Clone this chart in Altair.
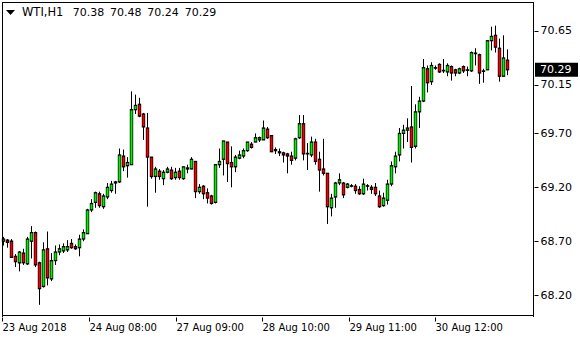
import altair as alt
import pandas as pd

symbol = "WTI,H1"

opens = [68.70, 68.71, 68.70, 68.56, 68.50, 68.59, 68.49, 68.70, 68.78, 68.50,
         68.28, 68.63, 68.35, 68.52, 68.60, 68.61, 68.62, 68.68, 68.65, 68.64,
         68.72, 68.77, 68.99, 69.06, 69.14, 69.02, 69.11, 69.17, 69.24, 69.25,
         69.49, 69.40, 69.41, 69.92, 69.97, 69.88, 69.75, 69.48, 69.30, 69.35,
         69.28, 69.34, 69.36, 69.29, 69.35, 69.28, 69.38, 69.37, 69.44, 69.16,
         69.21, 69.15, 69.12, 69.06, 69.41, 69.46, 69.62, 69.43, 69.39, 69.47,
         69.49, 69.54, 69.60, 69.62, 69.64, 69.64, 69.74, 69.68, 69.55, 69.53,
         69.52, 69.51, 69.49, 69.47, 69.66, 69.79, 69.515, 69.50, 69.62, 69.46,
         69.37, 69.33, 69.01, 69.11, 69.24, 69.24, 69.20, 69.215, 69.21, 69.18,
         69.14, 69.215, 69.20, 69.20, 69.12, 69.03, 69.08, 69.23, 69.39, 69.50,
         69.70, 69.73, 69.76, 69.58, 69.90, 70.00, 70.30, 70.18, 70.31, 70.34,
         70.285, 70.27, 70.32, 70.29, 70.26, 70.32, 70.29, 70.28, 70.445, 70.43,
         70.28, 70.29, 70.56, 70.61, 70.49, 70.23, 70.38]
highs = [68.74, 68.72, 68.72, 68.58, 68.61, 68.63, 68.74, 68.84, 68.79, 68.51,
         68.69, 68.79, 68.59, 68.66, 68.67, 68.68, 68.71, 68.72, 68.67, 68.76,
         68.81, 69.00, 69.09, 69.16, 69.16, 69.14, 69.24, 69.26, 69.26, 69.56,
         69.55, 69.48, 70.09, 70.06, 70.03, 69.89, 69.89, 69.48, 69.39, 69.37,
         69.36, 69.39, 69.39, 69.38, 69.38, 69.39, 69.41, 69.48, 69.44, 69.23,
         69.22, 69.19, 69.13, 69.41, 69.56, 69.63, 69.62, 69.58, 69.50, 69.54,
         69.56, 69.62, 69.62, 69.70, 69.67, 69.82, 69.76, 69.68, 69.57, 69.56,
         69.53, 69.52, 69.53, 69.66, 69.87, 69.87, 69.61, 69.67, 69.65, 69.53,
         69.65, 69.33, 69.14, 69.25, 69.33, 69.25, 69.24, 69.23, 69.23, 69.21,
         69.28, 69.23, 69.22, 69.24, 69.17, 69.15, 69.27, 69.44, 69.53, 69.75,
         69.78, 69.84, 70.14, 69.97, 70.04, 70.39, 70.33, 70.36, 70.33, 70.35,
         70.39, 70.35, 70.33, 70.30, 70.31, 70.33, 70.32, 70.46, 70.49, 70.44,
         70.30, 70.565, 70.69, 70.70, 70.58, 70.61, 70.48]
lows = [68.66, 68.64, 68.55, 68.46, 68.42, 68.48, 68.48, 68.54, 68.46, 68.11,
        68.27, 68.29, 68.33, 68.48, 68.57, 68.59, 68.60, 68.63, 68.62, 68.56,
        68.70, 68.77, 68.97, 69.01, 69.01, 69.00, 69.09, 69.15, 69.14, 69.24,
        69.35, 69.29, 69.41, 69.88, 69.85, 69.64, 69.02, 69.28, 69.15, 69.27,
        69.22, 69.33, 69.27, 69.27, 69.27, 69.27, 69.33, 69.37, 69.10, 69.14,
        69.09, 69.05, 69.04, 69.05, 69.38, 69.31, 69.25, 69.20, 69.34, 69.46,
        69.47, 69.53, 69.56, 69.62, 69.62, 69.64, 69.65, 69.53, 69.51, 69.49,
        69.43, 69.33, 69.41, 69.45, 69.65, 69.45, 69.36, 69.48, 69.41, 69.16,
        69.31, 68.86, 68.93, 69.01, 69.22, 69.10, 69.19, 69.20, 69.14, 69.13,
        69.13, 69.17, 69.14, 69.12, 69.01, 69.02, 69.04, 69.21, 69.33, 69.44,
        69.56, 69.62, 69.43, 69.56, 69.75, 69.99, 70.08, 70.15, 70.29, 70.26,
        70.26, 70.23, 70.19, 70.23, 70.25, 70.26, 70.23, 70.27, 70.33, 70.16,
        70.17, 70.29, 70.47, 70.45, 70.18, 70.23, 70.24]
closes = [68.72, 68.69, 68.55, 68.51, 68.60, 68.50, 68.72, 68.78, 68.48, 68.26,
          68.62, 68.36, 68.52, 68.60, 68.63, 68.65, 68.65, 68.64, 68.63, 68.72,
          68.78, 68.99, 69.05, 69.15, 69.03, 69.12, 69.20, 69.23, 69.25, 69.50,
          69.39, 69.43, 69.92, 69.96, 69.86, 69.76, 69.48, 69.30, 69.37, 69.30,
          69.34, 69.37, 69.28, 69.34, 69.29, 69.39, 69.37, 69.46, 69.16, 69.20,
          69.14, 69.10, 69.05, 69.41, 69.44, 69.63, 69.42, 69.39, 69.48, 69.50,
          69.54, 69.62, 69.57, 69.66, 69.66, 69.75, 69.66, 69.53, 69.54, 69.52,
          69.50, 69.49, 69.45, 69.65, 69.79, 69.51, 69.51, 69.62, 69.44, 69.36,
          69.33, 69.02, 69.10, 69.24, 69.27, 69.13, 69.23, 69.21, 69.17, 69.14,
          69.23, 69.21, 69.18, 69.14, 69.02, 69.10, 69.23, 69.40, 69.49, 69.70,
          69.73, 69.75, 69.57, 69.90, 70.00, 70.31, 70.17, 70.33, 70.305, 70.27,
          70.28, 70.33, 70.26, 70.26, 70.30, 70.28, 70.285, 70.45, 70.44, 70.26,
          70.275, 70.56, 70.60, 70.50, 70.23, 70.40, 70.29]

price_ticks = [68.20, 68.70, 69.20, 69.70, 70.15, 70.65]
time_tick_pos = [-0.375, 21.375, 43.125, 64.625, 86.375, 107.875]
time_tick_labels = ["23 Aug 2018", "24 Aug 08:00", "27 Aug 09:00",
                    "28 Aug 10:00", "29 Aug 11:00", "30 Aug 12:00"]

UP = "#00F000"
DOWN = "#F00000"
FONT = "DejaVu Sans"
FS_X = 10
FS_Y = 11

n = len(closes)
df = pd.DataFrame({"i": list(range(n)), "open": opens, "high": highs,
                   "low": lows, "close": closes})
df["top"] = df[["open", "close"]].max(axis=1)
df["bot"] = df[["open", "close"]].min(axis=1)
df["dir"] = ["up" if c >= o else "down" for o, c in zip(opens, closes)]
df["fillcol"] = [UP if d == "up" else DOWN for d in df["dir"]]

W, H = 532, 315
PL, PT = 2, 2
xscale = alt.Scale(domain=[-0.375, -0.375 + W / 4], nice=False, zero=False, padding=0)
yscale = alt.Scale(domain=[67.997, 70.919], nice=False, zero=False, padding=0)

expr = "''"
for p, l in reversed(list(zip(time_tick_pos, time_tick_labels))):
    expr = f"abs(datum.value - ({p})) < 0.01 ? '{l}' : ({expr})"

xaxis = alt.Axis(values=time_tick_pos, labelExpr=expr, orient="bottom",
                 tickSize=4, tickColor="black", labelAlign="left",
                 labelBaseline="top", labelPadding=1, labelFont=FONT,
                 labelFontSize=FS_X, labelColor="black", domain=False,
                 grid=False, title=None, labelOverlap=False, labelBound=False,
                 labelFlush=False)
yaxis = alt.Axis(values=price_ticks, format=".2f", orient="right", tickSize=4,
                 tickColor="black", labelPadding=2, labelFont=FONT,
                 labelFontSize=FS_Y, labelColor="black", domain=False,
                 grid=False, title=None, labelOverlap=False, labelBound=False,
                 labelFlush=False)

base = alt.Chart(df)
wicks = base.mark_rule(color="black", strokeWidth=1).encode(
    x=alt.X("i:Q", scale=xscale, axis=xaxis),
    y=alt.Y("low:Q", scale=yscale, axis=yaxis),
    y2="high:Q",
)
body_outline = base.mark_rect(color="black", xOffset=-1.7, x2Offset=1.7,
                              yOffset=-0.6, y2Offset=0.6).encode(
    x=alt.X("i:Q", scale=xscale),
    x2="i:Q",
    y=alt.Y("top:Q", scale=yscale),
    y2="bot:Q",
)
body_fill = base.mark_rect(xOffset=-1.0, x2Offset=1.0,
                           yOffset=0.7, y2Offset=-0.7).encode(
    x=alt.X("i:Q", scale=xscale),
    x2="i:Q",
    y=alt.Y("top:Q", scale=yscale),
    y2="bot:Q",
    fill=alt.Fill("fillcol:N", scale=None),
    opacity=alt.condition("datum.top - datum.bot > 0.015", alt.value(1), alt.value(0)),
)

last = pd.DataFrame({
    "p": [closes[-1]],
    "label": [f"{closes[-1]:.2f}"],
    "o": [f"{opens[-1]:.2f}"],
    "h": [f"{highs[-1]:.2f}"],
    "l": [f"{lows[-1]:.2f}"],
    "c": [f"{closes[-1]:.2f}"],
    "sym": [symbol],
})
lb = alt.Chart(last)

frame = [
    lb.mark_rule(color="black", strokeWidth=1).encode(
        x=alt.value(0.5), y=alt.value(0), y2=alt.value(H)),
    lb.mark_rule(color="black", strokeWidth=1).encode(
        x=alt.value(W - 0.5), y=alt.value(0), y2=alt.value(H)),
    lb.mark_rule(color="black", strokeWidth=1).encode(
        y=alt.value(0.5), x=alt.value(0), x2=alt.value(W)),
    lb.mark_rule(color="black", strokeWidth=1).encode(
        y=alt.value(H - 1.5), x=alt.value(0), x2=alt.value(W)),
]

tag_rect = lb.mark_rect(color="black", yOffset=-7, y2Offset=7).encode(
    x=alt.value(533), x2=alt.value(576),
    y=alt.Y("p:Q", scale=yscale), y2="p:Q",
)
tag_text = lb.mark_text(color="white", align="left", baseline="middle",
                        font=FONT, fontSize=FS_Y).encode(
    x=alt.value(538), y=alt.Y("p:Q", scale=yscale), text="label:N",
)
tri = lb.mark_point(shape="M-1,-0.55L1,-0.55L0,0.55Z", filled=True,
                    color="black", size=81, opacity=1).encode(
    x=alt.value(8.5), y=alt.value(10.5),
)


def hdr(field, xpos, fs=FS_Y):
    return lb.mark_text(align="left", baseline="middle", font=FONT,
                        fontSize=fs, color="black").encode(
        x=alt.value(xpos), y=alt.value(10.5), text=f"{field}:N")


layers = [wicks, body_outline, body_fill] + frame + [
    tag_rect, tag_text, tri,
    hdr("sym", 20, 11.5), hdr("o", 70.7), hdr("h", 108),
    hdr("l", 145.3), hdr("c", 182.7)]

chart = alt.layer(*layers).properties(
    width=W, height=H,
    autosize=alt.AutoSizeParams(type="none"),
    padding={"left": PL, "top": PT, "right": 580 - PL - W, "bottom": 340 - PT - H},
    background="white",
).configure_view(strokeWidth=0)

chart.save("out.html", embed_options={"renderer": "svg", "actions": False})
